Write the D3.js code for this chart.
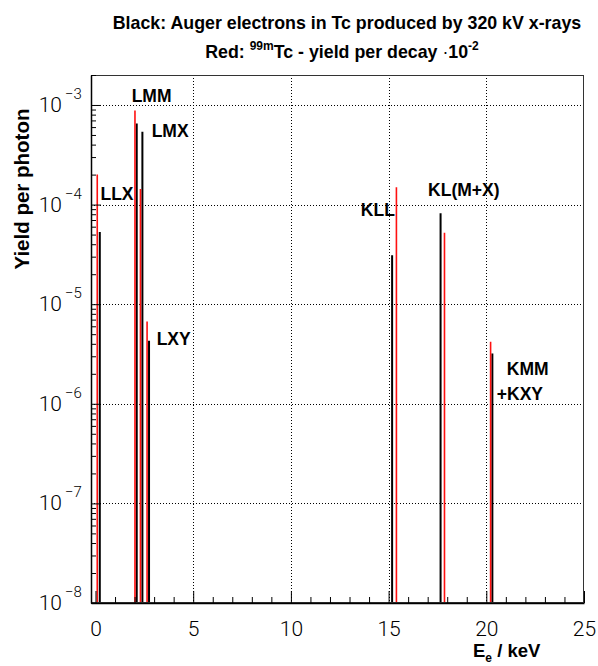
<!DOCTYPE html>
<html><head><meta charset="utf-8">
<script src="https://cdn.jsdelivr.net/npm/d3@7"></script>
<style>body{margin:0;background:#fff}</style>
</head><body>
<svg id="c" width="598" height="666" xmlns="http://www.w3.org/2000/svg"></svg>
<script>
// ---- data ----
const blackEnergy = [0.22, 2.11, 2.40, 2.74, 15.18, 17.66, 20.31];
const blackYield  = [5.3e-5, 6.5e-4, 5.4e-4, 4.3e-6, 3.1e-5, 8.2e-5, 3.2e-6];
const redEnergy   = [0.09, 2.02, 2.30, 2.64, 15.40, 17.86, 20.22];
const redYield    = [2.0e-4, 8.8e-4, 1.43e-4, 6.7e-6, 1.49e-4, 5.2e-5, 4.2e-6];
const peakLabels  = ["LMM", "LMX", "LLX", "LXY", "KLL", "KL(M+X)", "KMM", "+KXY"];
const labelEnergy = [2.87, 3.82, 1.10, 4.00, 14.45, 18.85, 22.12, 21.72];
const labelYield  = [1.08e-3, 4.8e-4, 1.12e-4, 3.9e-6, 7.7e-5, 1.22e-4, 1.95e-6, 1.09e-6];
const xMajorTicks = [0, 5, 10, 15, 20, 25];
const xMinorTicks = [1,2,3,4,6,7,8,9,11,12,13,14,16,17,18,19,21,22,23,24];
const yDecades    = [-8, -7, -6, -5, -4, -3];
const xDomain = [-0.23, 25];
const yDomain = [1e-8, 2e-3];

// ---- layout ----
const L = 91, R = 584, T = 75, B = 603;
const svg = d3.select("#c");
const x = d3.scaleLinear().domain(xDomain).range([L, R]);
const y = d3.scaleLog().domain(yDomain).range([B, T]);
const FONT = "'Liberation Sans', Arial, Helvetica, sans-serif";
const TICKFONT = "Roboto, 'Liberation Sans', Arial, sans-serif";

// gridlines (dotted)
const grid = svg.append("g").attr("stroke", "#000").attr("stroke-width", 1)
  .attr("stroke-dasharray", "1,2");
grid.selectAll("line.vx").data(xMajorTicks.filter(d => d > 0 && d < 25)).join("line")
  .attr("x1", d => Math.round(x(d)) + 0.5).attr("x2", d => Math.round(x(d)) + 0.5)
  .attr("y1", T).attr("y2", B);
grid.selectAll("line.hy").data(yDecades.filter(d => d > -8)).join("line")
  .attr("y1", d => Math.round(y(Math.pow(10, d))) + 0.5).attr("y2", d => Math.round(y(Math.pow(10, d))) + 0.5)
  .attr("x1", L).attr("x2", R);

// bars
const bars = svg.append("g");
bars.selectAll("line.b").data(blackEnergy.map((e, i) => [e, blackYield[i]])).join("line")
  .attr("x1", d => x(d[0])).attr("x2", d => x(d[0]))
  .attr("y1", B).attr("y2", d => y(d[1]))
  .attr("stroke", "#000").attr("stroke-width", 2);
bars.selectAll("line.r").data(redEnergy.map((e, i) => [e, redYield[i]])).join("line")
  .attr("x1", d => x(d[0])).attr("x2", d => x(d[0]))
  .attr("y1", B).attr("y2", d => y(d[1]))
  .attr("stroke", "#ff1010").attr("stroke-width", 1.6);

// frame
svg.append("rect").attr("x", L + 0.5).attr("y", T + 0.5).attr("width", R - L - 1).attr("height", B - T - 1)
  .attr("fill", "none").attr("stroke", "#333").attr("stroke-width", 1);

// x axis
const xAxisMajor = d3.axisBottom(x).tickValues(xMajorTicks).tickSizeInner(-12).tickSizeOuter(0)
  .tickPadding(18).tickFormat(d3.format("d"));
const gx = svg.append("g").attr("transform", `translate(0,${B})`).call(xAxisMajor);
gx.select(".domain").attr("stroke", "#000").attr("stroke-width", 1.5);
gx.selectAll("text").attr("font-family", TICKFONT).attr("font-weight", 300).attr("font-size", 21).attr("fill", "#000");
const xAxisMinor = d3.axisBottom(x).tickValues(xMinorTicks).tickSizeInner(-6).tickSizeOuter(0).tickFormat("");
const gxm = svg.append("g").attr("transform", `translate(0,${B})`).call(xAxisMinor);
gxm.select(".domain").remove();

// y axis
const yMinor = [];
yDecades.forEach(d => { for (let m = 2; m <= 9; m++) { const v = m * Math.pow(10, d); if (v <= yDomain[1]) yMinor.push(v); } });
const yAxisMajor = d3.axisLeft(y).tickValues(yDecades.map(d => Math.pow(10, d))).tickSizeInner(-10).tickSizeOuter(0).tickFormat("");
const gy = svg.append("g").attr("transform", `translate(${L},0)`).call(yAxisMajor);
gy.select(".domain").attr("stroke", "#000").attr("stroke-width", 1.5);
const yAxisMinor = d3.axisLeft(y).tickValues(yMinor).tickSizeInner(-5).tickSizeOuter(0).tickFormat("");
const gym = svg.append("g").attr("transform", `translate(${L},0)`).call(yAxisMinor);
gym.select(".domain").remove();

// y tick labels 10^n
const yl = svg.append("g").attr("font-family", TICKFONT).attr("font-weight", 300).attr("fill", "#000");
yDecades.forEach(d => {
  const py = y(Math.pow(10, d));
  yl.append("text").attr("x", 62).attr("y", py + 7).attr("text-anchor", "end")
    .attr("font-size", 21).text("10");
  yl.append("text").attr("x", 65).attr("y", py - 6).attr("text-anchor", "start")
    .attr("font-size", 15).text("\u2212" + (-d));
});

// peak labels
svg.append("g").attr("font-family", FONT).attr("font-weight", "bold").attr("font-size", 17.5)
  .selectAll("text").data(peakLabels).join("text")
  .attr("x", (d, i) => x(labelEnergy[i])).attr("y", (d, i) => y(labelYield[i]))
  .attr("text-anchor", "middle").text(d => d);

// titles
svg.append("text").attr("x", 347).attr("y", 28.5).attr("text-anchor", "middle")
  .attr("font-family", FONT).attr("font-weight", "bold").attr("font-size", 17.8)
  .text("Black: Auger electrons in Tc produced by 320 kV x-rays");
const t2 = svg.append("text").attr("x", 342).attr("y", 57.5).attr("text-anchor", "middle")
  .attr("font-family", FONT).attr("font-weight", "bold").attr("font-size", 17.8);
t2.append("tspan").text("Red: ");
t2.append("tspan").attr("font-size", 12).attr("dy", -8).text("99m");
t2.append("tspan").attr("dy", 8).text("Tc - yield per decay ");
t2.append("tspan").attr("font-weight", "normal").text("\u00b7");
t2.append("tspan").text("10");
t2.append("tspan").attr("font-size", 12).attr("dy", -8).text("-2");

// axis titles
svg.append("text").attr("transform", "translate(29,189) rotate(-90)").attr("text-anchor", "middle")
  .attr("font-family", FONT).attr("font-weight", "bold").attr("font-size", 20.5).text("Yield per photon");
const xt = svg.append("text").attr("x", 473).attr("y", 657).attr("text-anchor", "start")
  .attr("font-family", FONT).attr("font-weight", "bold").attr("font-size", 18.5);
xt.append("tspan").text("E");
xt.append("tspan").attr("font-size", 12).attr("dy", 5).text("e");
xt.append("tspan").attr("dy", -5).text(" / keV");
</script>
</body></html>
